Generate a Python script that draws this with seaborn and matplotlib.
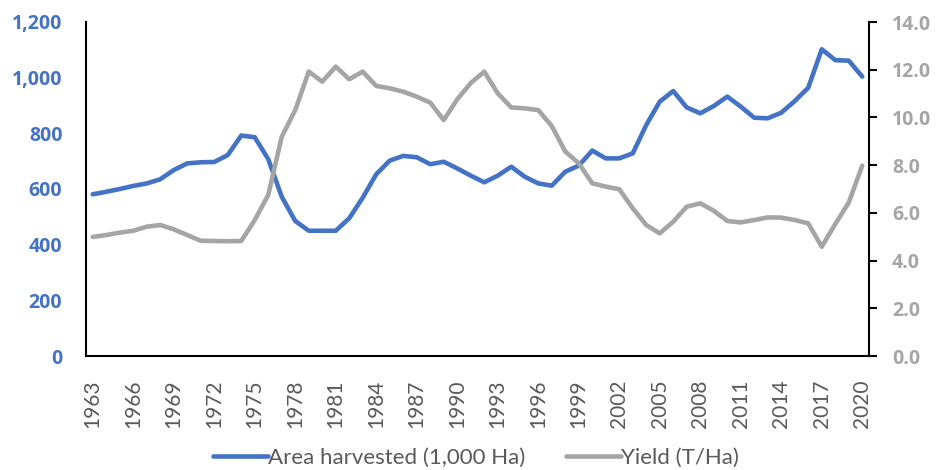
import matplotlib
matplotlib.use("Agg")
import matplotlib.pyplot as plt
import seaborn as sns
import pandas as pd
from matplotlib.ticker import FuncFormatter, MultipleLocator
from matplotlib.lines import Line2D

years = list(range(1963, 2021))
area = [581, 590, 600, 611, 620, 635, 668, 692, 696, 697, 722, 792, 786, 707, 572,
        485, 450, 450, 450, 495, 569, 653, 702, 719, 714, 689, 698, 674, 648, 624,
        648, 680, 644, 620, 612, 662, 684, 738, 710, 710, 728, 830, 914, 952, 893,
        872, 898, 932, 896, 856, 854, 874, 916, 964, 1102, 1063, 1061, 1004]
yield_ = [4.99, 5.07, 5.17, 5.25, 5.42, 5.49, 5.31, 5.07, 4.83, 4.82, 4.81, 4.82, 5.70,
          6.75, 9.19, 10.31, 11.92, 11.50, 12.13, 11.60, 11.92, 11.32, 11.22, 11.08,
          10.87, 10.62, 9.89, 10.76, 11.44, 11.92, 11.01, 10.42, 10.38, 10.31, 9.64,
          8.57, 8.08, 7.24, 7.10, 6.99, 6.19, 5.49, 5.14, 5.63, 6.26, 6.40, 6.09, 5.66,
          5.60, 5.70, 5.81, 5.80, 5.70, 5.56, 4.58, 5.53, 6.43, 7.98]
tick_years = list(range(1963, 2021, 3))
area_label = "Area harvested (1,000 Ha)"
yield_label = "Yield (T/Ha)"

df = pd.DataFrame({"year": years, "area": area, "yield": yield_})

sns.set_style("white")
plt.rcParams['font.family'] = ['Lato', 'DejaVu Sans']

blue = "#4472C4"
gray = "#A5A5A5"
txt = "#595959"

fig = plt.figure(figsize=(9.37, 4.70), dpi=100)
ax = fig.add_axes([86/937, 1 - 356/470, (869-86)/937, (356-22)/470])
ax2 = ax.twinx()

sns.lineplot(data=df, x="year", y="area", ax=ax, color=blue, linewidth=3.3,
             solid_capstyle="round", legend=False)
sns.lineplot(data=df, x="year", y="yield", ax=ax2, color=gray, linewidth=3.3,
             solid_capstyle="round", legend=False)

ax.set_xlim(1962.5, 2020.5)
ax.set_ylim(0, 1200)
ax2.set_ylim(0, 14)
ax.yaxis.set_major_locator(MultipleLocator(200))
ax2.yaxis.set_major_locator(MultipleLocator(2))
ax.yaxis.set_major_formatter(FuncFormatter(lambda v, p: f"{int(v):,}"))
ax2.yaxis.set_major_formatter(FuncFormatter(lambda v, p: f"{v:.1f}"))
ax.set_xticks(tick_years)
ax.set_xticklabels([str(y) for y in tick_years], rotation=90, color=txt, fontsize=15)

for a in (ax, ax2):
    a.set_xlabel("")
    a.set_ylabel("")
    for s in a.spines.values():
        s.set_visible(False)

ax.spines['left'].set_visible(True)
ax.spines['bottom'].set_visible(True)
ax2.spines['right'].set_visible(True)
for s in (ax.spines['left'], ax.spines['bottom'], ax2.spines['right']):
    s.set_color("black")
    s.set_linewidth(1.5)

bold_font = ['Open Sans', 'DejaVu Sans']
ax.tick_params(axis='y', length=0, pad=17, labelcolor=blue, labelsize=14)
for lbl in ax.get_yticklabels():
    lbl.set_fontweight("bold")
    lbl.set_family(bold_font)
ax.tick_params(axis='x', length=0, pad=17)
ax2.tick_params(axis='y', direction='out', length=5.5, width=1.5, color='black',
                pad=11, labelcolor=gray, labelsize=14)
for lbl in ax2.get_yticklabels():
    lbl.set_fontweight("bold")
    lbl.set_family(bold_font)

handles = [Line2D([0], [0], color=blue, linewidth=3.3, solid_capstyle="round"),
           Line2D([0], [0], color=gray, linewidth=3.3, solid_capstyle="round")]
leg = fig.legend(handles, [area_label, yield_label], loc="center",
                 bbox_to_anchor=(476/937, 1 - 458/470), ncol=2, frameon=False,
                 fontsize=16, handlelength=2.5, handletextpad=0.0, columnspacing=1.8,
                 labelcolor=txt)

fig.savefig("out.png", dpi=100)
